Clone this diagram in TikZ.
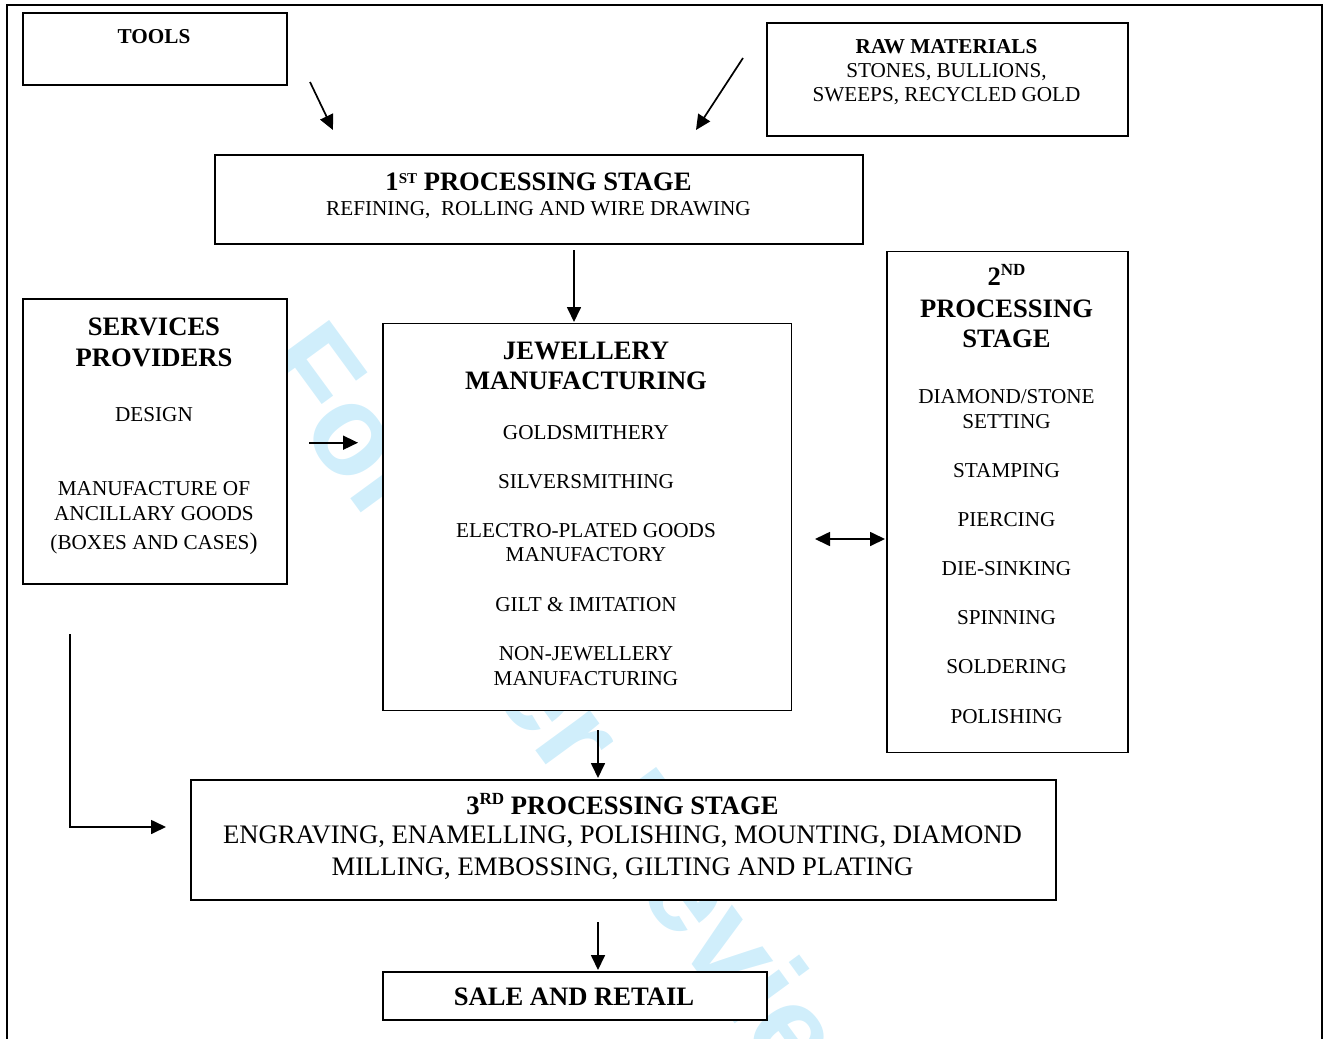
\documentclass[tikz,border=0pt]{standalone}
\usepackage{fontspec}
\setmainfont{Liberation Serif}
\newfontfamily\wmfont{Liberation Sans}
\usetikzlibrary{arrows.meta}
\definecolor{wmblue}{RGB}{208,238,251}
\newcommand\supidx[3]{\raisebox{#1pt}{\fontsize{#2}{#2}\selectfont #3}}
\begin{document}
\begin{tikzpicture}[x=1pt,y=-1pt,
  box/.style={draw, line width=1.7pt, fill=white, inner sep=0pt, anchor=north west},
  sm/.style={font=\fontsize{21.2}{24}\selectfont, anchor=base, inner sep=0pt},
  smb/.style={font=\fontsize{21.2}{24}\selectfont\bfseries, anchor=base, inner sep=0pt},
  big/.style={font=\fontsize{26.6}{31}\selectfont\bfseries, anchor=base, inner sep=0pt},
  bigr/.style={font=\fontsize{26.7}{31}\selectfont, anchor=base, inner sep=0pt},
  arr/.style={-{Triangle[length=15pt,width=14pt]}, line width=1.7pt},
  darr/.style={{Triangle[length=15pt,width=14pt]}-{Triangle[length=15pt,width=14pt]}, line width=1.7pt},
  wm/.style={font=\fontsize{128}{128}\wmfont\bfseries, text=wmblue, inner sep=0pt, anchor=base west}]
\useasboundingbox (0,0) rectangle (1323,1039);
% watermark
\node[wm, rotate=-53.8] (wm) at (253,365) {For Peer Review};
% outer frame
\draw[line width=2.2pt] (7,1039) -- (7,5) -- (1322,5) -- (1322,1039);
% boxes
\node[box, minimum width=264, minimum height=72] (tools) at (22,12) {};
\node[box, minimum width=361, minimum height=113] (raw) at (766,22) {};
\node[box, minimum width=648, minimum height=89] (st1) at (214,154) {};
\node[box, minimum width=264, minimum height=285] (svc) at (22,298) {};
\node[box, minimum width=408.5, minimum height=387] (jew) at (382,322.5) {};
\node[box, minimum width=241, minimum height=501] (nd2) at (886,250.5) {};
\node[box, minimum width=865, minimum height=120] (rd3) at (190,779) {};
\node[box, minimum width=384, minimum height=48] (sale) at (382,971) {};
% texts: tools / raw
\node[smb] (toolsT) at (154,43.5) {TOOLS};
\node[smb] (rawT1) at (946.5,53.5) {RAW MATERIALS};
\node[sm] (rawT2) at (946.5,77) {STONES, BULLIONS,};
\node[sm] (rawT3) at (946.5,101.7) {SWEEPS, RECYCLED GOLD};
% 1st stage
\node[big] (st1T1) at (538.5,190) {1\supidx{7}{15}{ST} PROCESSING STAGE};
\node[sm] (st1T2) at (538.5,215) {REFINING,\ \ ROLLING AND WIRE DRAWING};
% services
\node[big] (svcT1) at (154,335) {SERVICES};
\node[big] (svcT2) at (154,366) {PROVIDERS};
\node[sm] (svcT3) at (154,421) {DESIGN};
\node[sm] (svcT4) at (154,495) {MANUFACTURE OF};
\node[sm] (svcT5) at (154,520) {ANCILLARY GOODS};
\node[sm] (svcT6) at (154,549) {(BOXES AND CASES{\fontsize{24}{24}\selectfont )}};
% jewellery
\node[big] (jewT1) at (586,359) {JEWELLERY};
\node[big] (jewT2) at (586,389) {MANUFACTURING};
\node[sm] (jewT3) at (586,439.3) {GOLDSMITHERY};
\node[sm] (jewT4) at (586,488.3) {SILVERSMITHING};
\node[sm] (jewT5) at (586,537.7) {ELECTRO-PLATED GOODS};
\node[sm] (jewT6) at (586,561.7) {MANUFACTORY};
\node[sm] (jewT7) at (586,611) {GILT \& IMITATION};
\node[sm] (jewT8) at (586,660.7) {NON-JEWELLERY};
\node[sm] (jewT9) at (586,685) {MANUFACTURING};
% 2nd stage
\node[big] (ndT1) at (1006.5,285) {2\supidx{10}{17}{ND}};
\node[big] (ndT2) at (1006.5,317.3) {PROCESSING};
\node[big] (ndT3) at (1006.5,347.3) {STAGE};
\node[sm] (ndT4) at (1006.5,403.3) {DIAMOND/STONE};
\node[sm] (ndT5) at (1006.5,428.3) {SETTING};
\node[sm] (ndT6) at (1006.5,477.3) {STAMPING};
\node[sm] (ndT7) at (1006.5,526) {PIERCING};
\node[sm] (ndT8) at (1006.5,575) {DIE-SINKING};
\node[sm] (ndT9) at (1006.5,624) {SPINNING};
\node[sm] (ndT10) at (1006.5,673.3) {SOLDERING};
\node[sm] (ndT11) at (1006.5,723.3) {POLISHING};
% 3rd stage
\node[big] (rdT1) at (622.5,814) {3\supidx{10}{17}{RD} PROCESSING STAGE};
\node[bigr] (rdT2) at (622.5,843.3) {ENGRAVING, ENAMELLING, POLISHING, MOUNTING, DIAMOND};
\node[bigr] (rdT3) at (622.5,875) {MILLING, EMBOSSING, GILTING AND PLATING};
% sale
\node[big] (saleT) at (574,1005) {SALE AND RETAIL};
% connector end points
\coordinate (c1a) at (310,82);   \coordinate (c1b) at (333,130);
\coordinate (c2a) at (743,58);   \coordinate (c2b) at (696,130);
\coordinate (c3a) at (574,250);  \coordinate (c3b) at (574,322);
\coordinate (c4a) at (309,442.7);\coordinate (c4b) at (358,442.7);
\coordinate (c5a) at (815,539);  \coordinate (c5b) at (885,539);
\coordinate (c6a) at (598,730);  \coordinate (c6b) at (598,778);
\coordinate (c7a) at (70,634);   \coordinate (c7b) at (166,827);
\coordinate (c8a) at (598,922);  \coordinate (c8b) at (598,970);
% connectors
\draw[arr] (c1a) -- (c1b);
\draw[arr] (c2a) -- (c2b);
\draw[arr] (c3a) -- (c3b);
\draw[arr] (c4a) -- (c4b);
\draw[darr] (c5a) -- (c5b);
\draw[arr] (c6a) -- (c6b);
\draw[arr] (c7a) |- (c7b);
\draw[arr] (c8a) -- (c8b);
\end{tikzpicture}
\end{document}
